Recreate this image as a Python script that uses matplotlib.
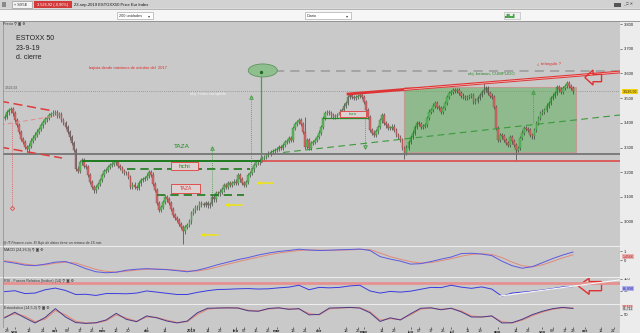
import numpy as np
import matplotlib
matplotlib.use('Agg')
import matplotlib.pyplot as plt
from matplotlib.patches import Rectangle, Ellipse, Polygon
import matplotlib.transforms as mtransforms

plt.rcParams['font.family'] = ['Liberation Sans', 'DejaVu Sans']

W, H = 640, 333
INICIO = '2018-08-27'
GRIS = '#c9c9c9'

# cierres diarios (dias habiles 27-ago-2018 .. 23-sep-2019), una semana por linea
cierres = [
    3425, 3442, 3450, 3456, 3438,
    3410, 3392, 3362, 3335, 3322,
    3302, 3292, 3308, 3328, 3340,
    3352, 3364, 3376, 3390, 3404,
    3414, 3420, 3431, 3436, 3441,
    3444, 3428, 3436, 3412, 3400,
    3382, 3363, 3341, 3318, 3290,
    3215, 3206, 3240, 3250, 3226,
    3220, 3188, 3160, 3140, 3126,
    3140, 3152, 3168, 3188, 3205,
    3209, 3220, 3229, 3234, 3241,
    3240, 3226, 3217, 3204, 3196,
    3196, 3180, 3142, 3150, 3140,
    3138, 3155, 3168, 3172, 3176,
    3186, 3200, 3190, 3152, 3128,
    3075, 3047, 3059, 3080, 3099,
    3090, 3075, 3050, 3026, 3014,
    3006, 2990, 2978, 2960, 2978,
    2986, 3001, 3034, 3045, 3059,
    3058, 3075, 3070, 3067, 3076,
    3066, 3071, 3099, 3090, 3115,
    3114, 3121, 3130, 3148, 3140,
    3156, 3150, 3157, 3162, 3156,
    3188, 3171, 3156, 3148, 3160,
    3188, 3196, 3211, 3229, 3241,
    3240, 3250, 3257, 3262, 3269,
    3275, 3282, 3286, 3290, 3295,
    3302, 3299, 3310, 3322, 3326,
    3338, 3330, 3379, 3395, 3403,
    3411, 3396, 3363, 3302, 3330,
    3298, 3318, 3322, 3331, 3342,
    3360, 3383, 3420, 3440, 3444,
    3440, 3430, 3423, 3428, 3432,
    3445, 3452, 3470, 3480, 3504,
    3512, 3505, 3500, 3504, 3508,
    3512, 3505, 3484, 3450, 3423,
    3371, 3360, 3350, 3365, 3383,
    3410, 3432, 3399, 3390, 3379,
    3379, 3385, 3370, 3350, 3342,
    3330, 3298, 3278, 3300, 3322,
    3342, 3360, 3383, 3399, 3395,
    3383, 3388, 3391, 3420, 3445,
    3452, 3470, 3480, 3465, 3460,
    3444, 3460, 3480, 3505, 3520,
    3524, 3532, 3528, 3532, 3520,
    3510, 3504, 3500, 3504, 3508,
    3512, 3484, 3490, 3500, 3512,
    3524, 3532, 3540, 3520, 3510,
    3504, 3464, 3379, 3330, 3350,
    3345, 3330, 3318, 3310, 3342,
    3325, 3310, 3290, 3298, 3338,
    3360, 3379, 3375, 3371, 3350,
    3345, 3371, 3400, 3419, 3440,
    3445, 3452, 3470, 3480, 3500,
    3510, 3520, 3545, 3535, 3524,
    3540, 3550, 3561, 3548, 3540,
    3527,
]
apertura_inicial = 3420
ultimo = 3526.92
maximos_extra = {148: 3425, 236: 3565}
minimos_extra = {88: 2909, 197: 3255, 252: 3249}

# indicadores, un valor por semana
macd = [-0.14, -0.31, -0.53, -0.59, -0.42, -0.20, -0.14, -0.48, -0.92, -1.26,
        -1.37, -1.31, -1.09, -0.98, -0.92, -0.98, -1.03, -1.14, -1.26, -1.09,
        -0.81, -0.48, -0.20, 0.08, 0.30, 0.58, 0.80, 0.97, 1.08, 1.22,
        1.13, 1.08, 1.11, 1.16, 1.19, 1.24, 1.08, 0.41, 0.13, -0.09,
        -0.42, -0.37, -0.14, 0.13, 0.36, 0.74, 0.78, 0.69, 0.52, -0.09,
        -0.59, -0.87, -0.70, -0.26, 0.19, 0.58, 0.91]
senal = [-0.05, -0.20, -0.42, -0.55, -0.50, -0.32, -0.20, -0.30, -0.65, -1.00,
         -1.22, -1.30, -1.20, -1.08, -0.98, -0.96, -1.00, -1.08, -1.18, -1.18,
         -1.00, -0.72, -0.42, -0.15, 0.10, 0.35, 0.60, 0.80, 0.95, 1.08,
         1.15, 1.12, 1.10, 1.12, 1.15, 1.20, 1.18, 0.80, 0.40, 0.12,
         -0.15, -0.30, -0.25, -0.05, 0.18, 0.45, 0.65, 0.72, 0.65, 0.30,
         -0.20, -0.60, -0.72, -0.50, -0.12, 0.28, 0.60]
rsi = [46, 50, 38, 40, 54, 61, 51, 34, 35, 30,
       38, 38, 37, 40, 49, 44, 39, 34, 34, 43,
       50, 55, 56, 58, 59, 57, 58, 62, 65, 73,
       54, 64, 62, 64, 70, 73, 49, 40, 47, 44,
       48, 56, 64, 63, 73, 65, 60, 66, 57, 27,
       40, 44, 48, 53, 59, 66, 67]
esto_k = [36, 62, 36, 12, 38, 79, 40, 14, 10, 13,
          26, 57, 29, 18, 45, 36, 21, 12, 21, 60,
          81, 82, 83, 82, 69, 67, 80, 83, 76, 79,
          50, 52, 82, 83, 85, 82, 60, 19, 36, 26,
          55, 81, 83, 74, 81, 64, 40, 40, 45, 12,
          13, 29, 51, 67, 79, 85, 80]
esto_d = [40, 55, 44, 18, 30, 70, 50, 20, 12, 12,
          22, 50, 35, 20, 40, 38, 25, 14, 18, 52,
          76, 82, 82, 82, 72, 68, 77, 82, 78, 78,
          56, 50, 78, 82, 84, 83, 65, 25, 32, 28,
          50, 77, 82, 76, 80, 68, 45, 40, 44, 18,
          12, 25, 46, 63, 76, 83, 82]

tick_fechas = ['2018-08-28', '2018-09-03', '2018-09-12', '2018-09-21', '2018-10-01', '2018-10-09',
               '2018-10-17', '2018-10-25', '2018-11-01', '2018-11-12', '2018-11-20', '2018-12-03',
               '2018-12-14', '2019-01-02', '2019-01-14', '2019-01-22', '2019-02-01', '2019-02-07',
               '2019-02-15', '2019-02-25', '2019-03-01', '2019-03-13', '2019-03-21', '2019-04-01',
               '2019-04-18', '2019-04-26', '2019-05-01', '2019-05-14', '2019-05-22', '2019-06-03',
               '2019-06-07', '2019-06-17', '2019-06-25', '2019-07-01', '2019-07-11', '2019-07-19',
               '2019-08-01', '2019-08-14', '2019-08-22', '2019-09-02', '2019-09-09', '2019-09-17',
               '2019-09-23', '2019-10-01', '2019-10-11', '2019-10-21']
tick_textos = ['28', 'sep', '12', '21', 'oct', '09', '17', '25', 'nov', '12', '20', 'dic', '14',
               '2019', '14', '22', 'feb', '07', '15', '25', 'mar', '13', '21', 'abr', '18', '26',
               'may', '14', '22', 'jun', '07', '17', '25', 'jul', '11', '19', 'ago', '14', '22',
               'sep', '09', '17', '23', 'oct', '11', '21']
precio_ticks = [3000, 3100, 3200, 3300, 3400, 3500, 3600, 3700, 3800]


def fx(x):
    return x / W


def fy(y):
    return 1 - y / H


def rect_px(x0, y0, x1, y1, **kw):
    r = Rectangle((fx(x0), fy(y1)), (x1 - x0) / W, (y1 - y0) / H,
                  transform=fig.transFigure, **kw)
    fig.add_artist(r)
    return r


def linea_px(x0, y0, x1, y1, **kw):
    fig.add_artist(plt.Line2D([fx(x0), fx(x1)], [fy(y0), fy(y1)], transform=fig.transFigure, **kw))


def texto_px(x, y, s, **kw):
    kw.setdefault('va', 'center')
    fig.text(fx(x), fy(y), s, **kw)


def ejes(x0, y0, x1, y1):
    ax = fig.add_axes([fx(x0), fy(y1), (x1 - x0) / W, (y1 - y0) / H])
    ax.set_facecolor(GRIS)
    for s in ax.spines.values():
        s.set_visible(False)
    ax.set_xlim(-0.8, 303.2)
    ax.yaxis.set_ticks_position('right')
    ax.tick_params(axis='y', right=True, labelright=True, left=False, labelleft=False,
                   length=1.5, width=0.4, labelsize=3, pad=1.5, colors='#222222')
    ax.tick_params(axis='x', bottom=False, labelbottom=False)
    return ax


fig = plt.figure(figsize=(6.4, 3.33), dpi=100)
fig.patch.set_facecolor(GRIS)

# ---- cabecera y barra de herramientas ----
rect_px(0, 0, 640, 9, color='#d2d2d2', zorder=-1)
rect_px(0, 9, 640, 20.5, color='#f6f6f6', zorder=-1)
linea_px(0, 9, 640, 9, color='#9a9a9a', lw=0.5)
linea_px(0, 20.5, 640, 20.5, color='#8a8a8a', lw=0.6)
rect_px(2, 2, 6, 7, color='#8a8a8a', lw=0)
rect_px(12, 1.5, 32, 7.5, fc='#f4f4f4', ec='#888888', lw=0.4)
texto_px(14, 4.6, '« SX5E', fontsize=2.8, color='#222222')
rect_px(34, 1.5, 72, 7.5, color='#d23a3a', lw=0)
texto_px(53, 4.6, '3.526,92 (-0,90%)', fontsize=2.8, color='white', ha='center')
texto_px(74, 4.6, '23-sep-2019 ESTOXX50 Price Eur Index', fontsize=3, color='#111111')
rect_px(614, 2.5, 621, 7, color='#555555', lw=0)
texto_px(628, 4.6, '_ □ ✕', fontsize=2.8, color='#333333', ha='center')
rect_px(117, 12, 153, 19, fc='white', ec='#9a9a9a', lw=0.4)
texto_px(119, 15.6, '200 unidades', fontsize=2.8, color='#333333')
texto_px(149, 15.6, '▾', fontsize=3, color='#444444', ha='center')
rect_px(305, 12, 351, 19, fc='white', ec='#9a9a9a', lw=0.4)
texto_px(307, 15.6, 'Diario', fontsize=2.8, color='#333333')
texto_px(347, 15.6, '▾', fontsize=3, color='#444444', ha='center')
rect_px(504, 12, 520, 19, fc='#f0f0f0', ec='#b0b0b0', lw=0.4)
texto_px(510, 15.6, '▟▙▟', fontsize=3, color='#48a048', ha='center')

# franja del eje derecho
rect_px(620, 20.5, 640, 333, color='#ececec', zorder=-1)

# ---- panel principal: velas ----
ax = ejes(3, 20.5, 620, 245)
ax.set_ylim(2905.3, 3814.2)
ax.set_yticks(precio_ticks)
ax.set_yticklabels([f'{p // 1000}.{p % 1000:03d}' for p in precio_ticks])

c = np.array(cierres, dtype=float)
o = np.concatenate([[apertura_inicial], c[:-1]])
idx = np.arange(len(c))
hi = np.maximum(o, c) + 9
lo = np.minimum(o, c) - 9
for k, v in maximos_extra.items():
    hi[k] = v
for k, v in minimos_extra.items():
    lo[k] = v
sube = c >= o
ax.vlines(idx, lo, hi, color='#333333', lw=0.45, zorder=3)
ax.bar(idx, np.maximum(np.abs(c - o), 2.5), bottom=np.minimum(o, c), width=0.8,
       color=np.where(sube, '#5cb85c', '#cf6868'), edgecolor=np.where(sube, '#3d8f3d', '#a04848'),
       linewidth=0.3, zorder=4)

# niveles y figuras dibujadas
ax.axhline(ultimo, color='#8a8a8a', lw=0.6, ls=(0, (1, 1.5)), zorder=2)
ax.text(0, ultimo + 8, '3.526,92', fontsize=2.4, color='#555555', va='bottom')
ax.axhline(3272.5, color='#6e6e6e', lw=1.2, zorder=5)
ax.plot([123.4, 303.2], [3245.5, 3245.5], color='#e04040', lw=1.1, zorder=5)
ax.plot([38.6, 125.8], [3245.5, 3245.5], color='#1e7a1e', lw=1.4, zorder=5)
ax.plot([60.3, 120.9], [3211.7, 3211.7], color='#1e7a1e', lw=1.2, ls=(0, (5, 3)), zorder=5)
ax.plot([75.1, 118.0], [3107.7, 3107.7], color='#1e7a1e', lw=1.2, ls=(0, (5, 3)), zorder=5)
ax.plot([156.9, 179.0], [3419.4, 3419.4], color='#2a8a2a', lw=0.9, zorder=5)

# lineas rojas del canal bajista
ax.plot([-2.3, 23.8], [3488, 3448], color='#e03c3c', lw=1.1, ls=(0, (6, 3)), zorder=5)
ax.plot([-2.3, 24.8], [3391, 3427.5], color='#e48a8a', lw=0.7, ls=(0, (5, 3)), zorder=5)
ax.plot([-2.3, 28.3], [3302, 3257.5], color='#e03c3c', lw=1.1, ls=(0, (6, 3)), zorder=5)
ax.plot([3.6, 3.6], [3399, 3060], color='#e05050', lw=0.6, ls=(0, (1, 1.5)), zorder=5)
ax.plot([3.6], [3055], marker='D', ms=2.2, mfc='none', mec='#e05050', mew=0.6, zorder=5)

# objetivos verticales
for xv, y0v, y1v, mk in [(102.2, 3298, 3107.7, '^'), (121.2, 3504.5, 3209, '^'),
                         (260.3, 3524.7, 3403, '^'), (177.6, 3302, 3419.4, 'v')]:
    ax.plot([xv, xv], [y0v, y1v], color='#3a9a3a', lw=0.6, ls=(0, (1, 1.5)), zorder=5)
    ax.plot([xv], [y0v], marker=mk, ms=2.6, mfc='none', mec='#3a9a3a', mew=0.6, zorder=5)

# objetivo del hombro-cabeza-hombro invertido
ax.plot([133, 303.2], [3611, 3611], color='#9a9a9a', lw=1.1, ls=(0, (6, 4)), zorder=2)
ax.plot([126.3, 126.3], [3604, 3241], color='#4f9a4f', lw=0.9, zorder=5)
ax.add_patch(Ellipse((127.2, 3612), 14.3, 52.6, fc='#8fbf8f', ec='#5c945c', lw=0.6, zorder=6))
ax.plot([126.3], [3604], marker='o', ms=1.4, color='#1e6a1e', zorder=7)

# rectangulo verde y lineas de tendencia
ax.add_patch(Rectangle((196.8, 3280), 84.7, 263, fc='#5faf5f', alpha=0.55, ec='#d07c7c', lw=0.8, zorder=2))
ax.plot([137.2, 303.2], [3280, 3431.6], color='#3a9a3a', lw=0.8, ls=(0, (6, 4)), zorder=5)
ax.plot([169.2, 303.2], [3516.6, 3605.7], color='#e03434', lw=2.0, zorder=6)
ax.plot([197, 303.2], [3534.5, 3605.7], color='#f3c4c4', lw=0.5, zorder=7)

# flecha roja hueca
ax.add_patch(Polygon([(285.9, 3583.4), (289.9, 3613.8), (289.9, 3596.4), (294.1, 3596.4),
                      (294.1, 3566.4), (289.9, 3566.4), (289.9, 3553)], closed=True,
                     fc='none', ec='#e03030', lw=1.0, zorder=8))

# flechas amarillas
for x0a, x1a, ya in [(123.9, 132.2, 3156), (108.6, 117.0, 3067), (96.4, 105.1, 2946)]:
    ax.annotate('', xy=(x0a, ya), xytext=(x1a, ya),
                arrowprops=dict(arrowstyle='-|>', color='#f2e600', lw=1.0, mutation_scale=4,
                                shrinkA=0, shrinkB=0), zorder=8)

# cajas de texto
ax.add_patch(Rectangle((82, 3209), 13.3, 32, fc='#ddd2d2', ec='#e05050', lw=0.7, zorder=6))
ax.text(88.6, 3225, 'hchi', fontsize=4.6, color='#2a8a2a', ha='center', va='center', zorder=7)
ax.add_patch(Rectangle((82, 3116), 14.3, 36, fc='#ddd2d2', ec='#e05050', lw=0.7, zorder=6))
ax.text(89.2, 3134, 'TAZA', fontsize=3.6, color='#d04040', ha='center', va='center', zorder=7)
ax.add_patch(Rectangle((165.2, 3423.5), 12.8, 24.3, fc='#ddd2d2', ec='#e05050', lw=0.7, zorder=6))
ax.text(171.6, 3435.6, 'taza', fontsize=3, color='#2a8a2a', ha='center', va='center', zorder=7)
ax.text(87.4, 3306, 'TAZA', fontsize=4.6, color='#1e8a1e', ha='center', va='center', zorder=7)
ax.text(60.8, 3622, 'bajista desde máximos de octubre del  2017', fontsize=2.9, color='#e02828',
        ha='center', va='center')
ax.text(100.2, 3516.6, 'obj. hcha cumplido', fontsize=3.2, color='#f4f4f4', ha='center', va='center')
ax.text(239.7, 3595.6, 'obj. batman, CUMPLIDO', fontsize=3.1, color='#2a8a2a', ha='center', va='center')
ax.text(268.2, 3638, '¿ triángulo ?', fontsize=3.2, color='#e03030', ha='center', va='center')

tr = mtransforms.blended_transform_factory(ax.transAxes, ax.transData)
ax.text(1.004, ultimo, '3.526,92', transform=tr, fontsize=2.7, color='#222222', va='center',
        bbox=dict(boxstyle='square,pad=0.2', fc='#f5d20f', ec='none'), clip_on=False, zorder=9)

texto_px(16, 38.7, 'ESTOXX 50', fontsize=5, color='#222222')
texto_px(16, 48.2, '23-9-19', fontsize=5, color='#222222')
texto_px(16, 57.7, 'd. cierre', fontsize=5, color='#222222')
texto_px(3, 23.8, 'Precio ⚲ ▣ ⚙', fontsize=2.6, color='#333333')
texto_px(3, 242.8, '@ IT-Finance.com. El flujo de datos tiene un retraso de 15 min.', fontsize=2.5,
         color='#333333', style='italic')

# ---- paneles de indicadores ----
semanas = np.arange(len(macd)) * 5

ax_m = ejes(3, 246.5, 620, 276.3)
ax_m.set_ylim(-1.76, 1.52)
ax_m.plot(semanas, senal, color='#e08a7a', lw=0.7)
ax_m.plot(semanas, macd, color='#5a5ae0', lw=0.7)
ax_m.set_yticks([0, 1])
ax_m.set_yticklabels(['0', '1'])
ax_m.text(1.004, 0.45, '1,4566', transform=mtransforms.blended_transform_factory(ax_m.transAxes, ax_m.transData),
          fontsize=2.6, color='#b02020', va='center', clip_on=False,
          bbox=dict(boxstyle='square,pad=0.15', fc='#eab0b0', ec='none'))

ax_r = ejes(3, 277.3, 620, 303.2)
ax_r.set_ylim(-2.6, 106.4)
ax_r.axhline(81.6, color='#e69090', lw=2.0)
ax_r.plot(semanas, rsi, color='#3a3ae0', lw=0.7)
ax_r.plot([244.1, 303.2], [27.4, 95.7], color='#f8f8f8', lw=0.8)
ax_r.add_patch(Polygon([(282.6, 70.1), (288.0, 103), (288.0, 88.5), (294.1, 88.5), (294.1, 50),
                        (288.0, 50), (288.0, 34.6)], closed=True, fc='none', ec='#e03030', lw=1.0))
ax_r.set_yticks([50, 100])
ax_r.set_yticklabels(['50', '100'])
ax_r.text(1.004, 60, '66,898', transform=mtransforms.blended_transform_factory(ax_r.transAxes, ax_r.transData),
          fontsize=2.6, color='#2020a0', va='center', clip_on=False,
          bbox=dict(boxstyle='square,pad=0.15', fc='#b0b0ea', ec='none'))

ax_s = ejes(3, 304.2, 620, 327)
ax_s.set_ylim(-7, 100)
ax_s.plot(semanas, esto_d, color='#e08a7a', lw=0.8)
ax_s.plot(semanas, esto_k, color='#4a3a8a', lw=0.7)
ax_s.set_yticks([50])
ax_s.set_yticklabels(['50'])
tr_s = mtransforms.blended_transform_factory(ax_s.transAxes, ax_s.transData)
ax_s.text(1.004, 90, '83,151', transform=tr_s, fontsize=2.4, color='#b02020', va='center', clip_on=False,
          bbox=dict(boxstyle='square,pad=0.1', fc='#eab0b0', ec='none'))
ax_s.text(1.004, 78, '81,712', transform=tr_s, fontsize=2.4, color='#222222', va='center', clip_on=False,
          bbox=dict(boxstyle='square,pad=0.1', fc='#d8d8d8', ec='none'))

pos = [np.busday_count(INICIO, f) for f in tick_fechas]
ax_s.set_xticks(pos)
ax_s.set_xticklabels(tick_textos)
ax_s.tick_params(axis='x', bottom=True, labelbottom=True, length=1.2, width=0.4, labelsize=3,
                 pad=0.6, colors='#222222')
for lab in ax_s.get_xticklabels():
    if not lab.get_text().isdigit() or lab.get_text() == '2019':
        lab.set_fontweight('bold')

texto_px(4, 250.3, 'MACD (24,26,9) ⚲ ▣ ⚙', fontsize=2.7, color='#333333')
texto_px(4, 280.6, 'RSI - Fuerza Relativa (Índice) (14) ⚲ ▣ ⚙', fontsize=2.7, color='#333333')
texto_px(4, 307.6, 'Estocástico (14,5,3) ⚲ ▣ ⚙', fontsize=2.7, color='#333333')

for yl in [245.8, 276.8, 303.7]:
    linea_px(0, yl, 640, yl, color='#ededed', lw=0.8)
linea_px(3, 20.5, 3, 327, color='#8c8c8c', lw=0.5)

fig.savefig('out.png', dpi=100, facecolor=fig.get_facecolor())
